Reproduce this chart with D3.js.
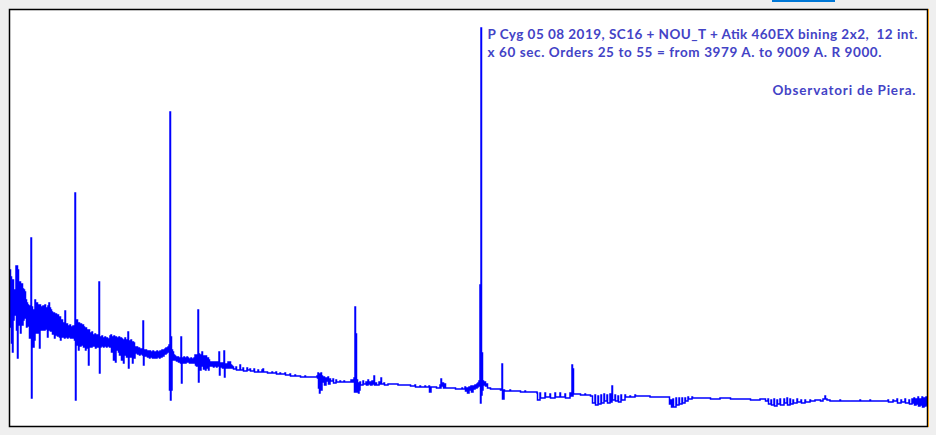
<!DOCTYPE html>
<html>
<head>
<meta charset="utf-8">
<script src="https://cdn.jsdelivr.net/npm/d3@7"></script>
<style>
  html, body { margin: 0; padding: 0; background: #efefef; }
  svg { display: block; }
</style>
</head>
<body>
<svg id="chart" width="936" height="435"></svg>
<script>
// Spectrum of P Cyg, relative intensity per detector bin: [bin, max, min]
const spectrum = [
[0,156,99],[1,149,83],[2,141,74],[3,146,106],[4,136,111],[5,131,116],[6,160,96],[7,160,68],[8,156,106],[9,141,101],
[10,144,93],[11,136,116],[12,142,101],[13,137,106],[14,136,126],[15,134,108],[16,126,99],[17,123,104],[18,121,100],[19,120,88],
[20,119,91],[21,188,28],[22,119,89],[23,116,79],[24,113,86],[25,126,93],[26,121,96],[27,123,93],[28,121,94],[29,118,78],
[30,121,96],[31,119,99],[32,116,96],[33,120,98],[34,117,96],[35,121,99],[36,116,97],[37,118,89],[38,120,96],[39,123,98],
[40,118,95],[41,116,96],[42,114,92],[43,111,93],[44,113,88],[45,110,91],[46,112,94],[47,109,90],[48,111,93],[49,108,89],
[50,109,86],[51,104,90],[52,106,89],[53,102,91],[54,103,88],[55,115,90],[56,101,89],[57,102,88],[58,100,91],[59,99,89],
[60,101,88],[61,99,90],[62,98,88],[63,100,89],[64,98,86],[65,233,26],[66,104,81],[67,106,84],[68,101,76],[69,103,83],
[70,100,80],[71,102,84],[72,98,81],[73,101,79],[74,99,82],[75,97,76],[76,98,81],[77,96,78],[78,94,61],[79,96,79],
[80,93,81],[81,92,79],[82,94,82],[83,91,80],[84,90,81],[85,92,78],[86,89,80],[87,91,79],[88,90,81],[89,144,53],
[90,89,79],[91,88,80],[92,90,81],[93,87,79],[94,88,81],[95,89,80],[96,87,79],[97,88,81],[98,86,80],[99,87,79],
[100,90,81],[101,91,74],[102,88,78],[103,89,66],[104,90,68],[105,88,64],[106,89,76],[107,88,78],[108,87,74],[109,89,71],
[110,86,76],[111,88,66],[112,87,74],[113,85,63],[114,86,71],[115,88,74],[116,85,69],[117,86,76],[118,94,58],[119,85,71],
[120,84,69],[121,86,74],[122,83,63],[123,84,71],[124,83,68],[125,79,73],[126,78,74],[127,79,72],[128,77,73],[129,78,71],
[130,77,73],[131,76,72],[132,77,71],[133,105,61],[134,76,71],[135,75,70],[136,76,71],[137,74,69],[138,75,70],[139,74,68],
[140,75,70],[141,73,69],[142,74,68],[143,75,70],[144,73,68],[145,74,69],[146,73,68],[147,75,70],[148,74,69],[149,73,68],
[150,75,70],[151,74,69],[152,76,71],[153,75,70],[154,76,72],[155,77,72],[156,78,73],[157,77,74],[158,79,74],[159,81,36],
[160,314,26],[161,89,36],[162,76,66],[163,74,68],[164,71,66],[165,70,67],[166,69,65],[167,68,66],[168,69,64],[169,68,65],
[170,67,63],[171,89,43],[172,68,64],[173,67,63],[174,69,65],[175,68,63],[176,67,64],[177,69,65],[178,68,64],[179,66,63],
[180,67,64],[181,68,63],[182,67,64],[183,66,63],[184,68,63],[185,71,61],[186,70,60],[187,71,62],[188,116,44],[189,72,62],
[190,70,56],[191,71,60],[192,74,61],[193,69,57],[194,70,60],[195,68,56],[196,70,58],[197,67,59],[198,68,56],[199,66,60],
[200,64,60],[201,64,61],[202,63,60],[203,64,59],[204,63,60],[205,64,61],[206,63,59],[207,64,60],[208,63,60],[209,74,51],
[210,63,60],[211,62,59],[212,63,58],[213,61,59],[214,75,49],[215,62,58],[216,61,59],[217,62,58],[218,64,59],[219,61,58],
[220,64,59],[221,61,58],[222,60,58],
[223,59,57],[226,59,56],[230,61,56],[233,58,55],[237,58,56],[240,57,55],[244,57,54],[248,56,54],[252,56,54],[253,57,54],
[257,54,53],[262,54,53],[266,54,52],[270,53,52],[275,53,51],[280,52,50],[285,51,50],[290,50,49],[295,50,49],[300,49,49],
[305,49,49],[307,50,48],[308,53,38],[309,52,33],[310,51,41],[311,53,36],[312,50,44],[314,49,41],[316,48,45],[318,49,42],
[320,47,45],[323,47,43],[326,46,44],[330,45,44],[334,45,44],[338,44,44],[341,46,44],[343,46,46],[344,48,34],[345,119,41],
[346,92,34],[347,46,41],[348,43,33],[349,43,36],[350,44,41],[353,45,42],[356,44,41],[358,46,42],[360,44,41],[362,45,42],
[364,50,41],[366,43,41],[369,44,42],[371,48,42],[374,43,41],[378,42,42],[383,42,42],[388,41,41],[395,41,41],[400,41,40],
[405,41,39],[410,40,39],[415,40,39],[419,40,34],[421,39,39],[426,39,38],[430,41,38],[431,47,40],[433,43,38],[435,42,38],
[438,38,38],[445,38,37],[452,38,37],[455,39,35],[457,38,33],[459,39,36],[461,40,34],[463,40,37],[465,41,38],[467,42,39],
[468,43,40],[469,45,41],[470,141,23],[471,398,31],[472,73,36],[473,45,41],[475,44,40],[477,42,38],[480,38,37],[485,37,37],
[490,37,36],[492,62,27],[494,36,35],[500,36,35],[505,35,35],[510,35,34],[515,35,34],[520,34,34],[525,34,34],[527,33,26],
[530,33,28],[535,33,29],[540,32,28],[545,33,29],[550,33,29],[555,32,28],[560,33,30],[562,61,30],[563,57,32],[565,32,32],
[570,32,31],[575,32,31],[580,31,30],[582,30,23],[585,31,21],[588,30,22],[591,31,23],[594,32,25],[597,31,23],[600,32,24],
[602,40,26],[605,31,25],[608,30,24],[611,31,26],[615,31,29],[620,30,29],[625,31,30],[630,30,30],[637,30,30],[640,29,29],
[650,29,29],[657,29,29],[659,29,22],[661,26,19],[663,27,19],[666,28,21],[669,28,22],[672,28,23],[675,28,25],[678,29,27],
[682,29,28],[690,28,28],[700,28,27],[710,28,28],[720,28,27],[730,27,27],[740,27,26],[750,27,27],[755,27,25],[758,27,22],
[761,26,21],[764,27,20],[767,26,22],[770,27,21],[774,27,23],[777,28,21],[780,27,22],[783,26,23],[787,27,24],[791,26,23],
[795,26,24],[800,26,25],[805,26,26],[810,26,25],[813,27,27],[815,30,27],[817,26,26],[820,25,25],[830,26,25],[840,25,25],
[850,26,25],[860,26,25],[870,25,25],[878,26,24],[883,26,25],[887,27,23],[891,26,24],[895,27,23],[899,26,22],[902,27,23],
[904,28,21],[906,27,22],[908,29,20],[910,27,21],[912,29,19],[914,28,20],[916,29,21],[917,27,23]
];

const binDomain = [0, 917];
const intensityDomain = [0, 417];

const titleLines = [
  "P Cyg 05 08 2019, SC16 + NOU_T + Atik 460EX bining 2x2,  12 int.",
  "x 60 sec. Orders 25 to 55 = from 3979 A. to 9009 A. R 9000."
];
const creditLine = "Observatori de Piera.";

const svg = d3.select("#chart");
const plot = {left: 9.5, top: 9.5, right: 927.5, bottom: 426.5};

// accent bar at top
svg.append("rect").attr("x", 772).attr("y", 0).attr("width", 63).attr("height", 2).attr("fill", "#0078d7");

svg.append("rect")
  .attr("x", plot.left).attr("y", plot.top)
  .attr("width", plot.right - plot.left).attr("height", plot.bottom - plot.top)
  .attr("fill", "#ffffff");

const x = d3.scaleLinear().domain(binDomain).range([10, 927]);
const y = d3.scaleLinear().domain(intensityDomain).range([426, 9]);

svg.append("clipPath").attr("id", "clip").append("rect")
  .attr("x", plot.left).attr("y", plot.top)
  .attr("width", plot.right - plot.left).attr("height", plot.bottom - plot.top);

// path points: each bin contributes its max then its min
const pts = [];
spectrum.forEach(d => {
  pts.push([d[0], d[1]]);
  if (d[2] !== d[1]) pts.push([d[0] + 0.5, d[2]]);
});

const line = d3.line().x(d => x(d[0])).y(d => y(d[1])).curve(d3.curveStepAfter);

svg.append("path")
  .datum(pts)
  .attr("clip-path", "url(#clip)")
  .attr("d", line)
  .attr("fill", "none")
  .attr("stroke", "#0000ff")
  .attr("stroke-width", 1.5)
  .attr("stroke-linejoin", "miter");

// border
svg.append("rect")
  .attr("x", plot.left).attr("y", plot.top)
  .attr("width", plot.right - plot.left).attr("height", plot.bottom - plot.top)
  .attr("fill", "none").attr("stroke", "#000").attr("stroke-width", 1.5);

svg.append("line").attr("x1", 928.5).attr("x2", 928.5).attr("y1", 9).attr("y2", 427)
  .attr("stroke", "#f0a020").attr("stroke-width", 1);

const textColor = "#4343c6";
const font = "Lato, 'DejaVu Sans', sans-serif";
function spacedText(str, xPos, yPos, width) {
  return svg.append("text").attr("x", xPos).attr("y", yPos)
    .attr("font-family", font).attr("font-weight", "bold").attr("font-size", 13.5)
    .attr("fill", textColor)
    .attr("textLength", width).attr("lengthAdjust", "spacing")
    .style("white-space", "pre").text(str);
}
spacedText(titleLines[0], 487.5, 38.5, 430);
spacedText(titleLines[1], 487.5, 56.5, 394);
spacedText(creditLine, 772.5, 94.5, 143);
</script>
</body>
</html>
